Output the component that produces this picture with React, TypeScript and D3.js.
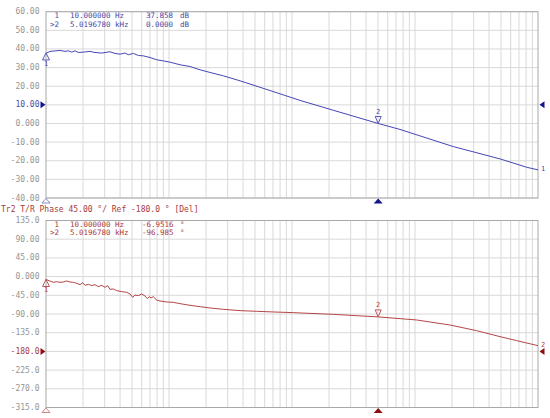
import React from 'react';
import * as d3 from 'd3';

const W = 550;
const H = 418;

// Trace 1: magnitude (dB) vs frequency (Hz)
const freqTop = [10, 10.1, 10.8, 13.0, 14.3, 15.2, 16.2, 17.2, 18.3, 20.1, 22.8, 25.0, 28.4, 33.1, 36.4, 40.0, 43.9, 46.7, 51.3, 56.3, 61.8, 70.1, 79.4, 89.9, 102, 123, 148, 179, 215, 276, 378, 662, 1161, 2167, 5020, 7550, 20480, 49100, 80900, 100000];
const magTop = [37.86, 37.8, 38.7, 39.2, 38.7, 39.0, 38.3, 39.0, 38.1, 38.3, 38.7, 38.1, 37.8, 38.5, 37.6, 37.2, 37.8, 36.9, 37.6, 36.5, 36.3, 35.4, 34.2, 33.6, 32.9, 31.5, 30.6, 28.8, 27.4, 25.6, 22.9, 17.7, 12.4, 7.1, 0.0, -3.2, -12.4, -19.0, -23.5, -24.9];

// Trace 2: phase (deg) vs frequency (Hz)
const freqBot = [10, 10.6, 11.5, 12.2, 13.0, 13.8, 14.7, 15.7, 16.7, 17.8, 18.9, 19.9, 20.8, 22.1, 23.5, 25.0, 26.6, 28.4, 30.2, 31.7, 33.1, 35.3, 37.6, 41.3, 45.3, 48.2, 50.7, 52.9, 56.3, 60.0, 63.8, 66.6, 69.2, 71.4, 74.5, 79.4, 84.5, 95.8, 108, 123, 148, 179, 215, 276, 378, 516, 705, 1025, 1161, 2167, 5020, 10320, 19260, 31730, 49100, 67100, 100000];
const phaseBot = [-6.95, -9.8, -13.8, -12.2, -13.8, -13, -10.5, -13, -13.8, -16.2, -19.4, -14.6, -21, -18.6, -21.8, -19.4, -24.2, -21, -25.8, -21.8, -30.6, -29.8, -33.8, -36.2, -37.8, -41.8, -49.8, -44.2, -45.8, -41.8, -46.6, -53.1, -48.2, -51.4, -48.2, -56.3, -58.7, -61.1, -61.9, -65.1, -69.1, -72.3, -75.5, -78.7, -81.9, -83.5, -85.1, -86.7, -87.5, -90.8, -96.99, -104.4, -116.5, -130.1, -144.5, -154.1, -166.2];

const topTicks = [60, 50, 40, 30, 20, 10, 0, -10, -20, -30, -40];
const topTickLabels = ['60.00', '50.00', '40.00', '30.00', '20.00', '10.00', '0.000', '-10.00', '-20.00', '-30.00', '-40.00'];
const botTicks = [135, 90, 45, 0, -45, -90, -135, -180, -225, -270, -315];
const botTickLabels = ['135.0', '90.00', '45.00', '0.000', '-45.00', '-90.00', '-135.0', '-180.0', '-225.0', '-270.0', '-315.0'];

const markerFreqs = [10, 5019.678];
const markerTopVals = [37.858, 0.0];
const markerBotVals = [-6.9516, -96.985];
const topRef = 10;
const botRef = -180;

const readTop = [
  ['1', '10.000000', 'Hz', '37.858', 'dB'],
  ['>2', '5.0196780', 'kHz', '0.0000', 'dB'],
];
const readBot = [
  ['1', '10.000000', 'Hz', '-6.9516', '°'],
  ['>2', '5.0196780', 'kHz', '-96.985', '°'],
];
const title2 = 'Tr2 T/R Phase 45.00 °/ Ref -180.0 ° [Del]';

const FONT = '"DejaVu Sans Mono", monospace';
const GRID = '#d9d9d9';
const BORDER = '#a8a8a8';
const LABEL = '#959595';
const BLUE = '#4646b4';
const BLUE_TXT = '#4a4aa6';
const NAVY = '#14148c';
const RED = '#b44646';
const RED_TXT = '#a83a3a';
const DARKRED = '#8c1010';

const x = d3.scaleLog().domain([10, 100000]).range([46, 538]);
const yTop = d3.scaleLinear().domain([-40, 60]).range([198, 11.7]);
const yBot = d3.scaleLinear().domain([-315, 135]).range([407.5, 220.5]);

const gridFreqs: number[] = [];
for (let d = 10; d < 100000; d *= 10) {
  for (let k = 1; k <= 9; k++) {
    if (d * k > 10) gridFreqs.push(d * k);
  }
}

function Panel({ y, ticks, labels, refVal, color, txtColor, dark, freqs, vals, markerVals, readout, traceNo }: any) {
  const [y0, y1] = y.range();
  const line = d3.line<number>().x((_, i) => x(freqs[i])).y((v) => y(v));
  return (
    <g>
      {ticks.map((t: number) => (
        <line key={'h' + t} x1={46} x2={538} y1={y(t)} y2={y(t)} stroke={GRID} strokeWidth={1} />
      ))}
      {gridFreqs.map((f) => (
        <line key={'v' + f} x1={x(f)} x2={x(f)} y1={y1} y2={y0} stroke={GRID} strokeWidth={1} />
      ))}
      <rect x={46} y={y1} width={492} height={y0 - y1} fill="none" stroke={BORDER} strokeWidth={1} />
      {ticks.map((t: number, i: number) => (
        <text key={'l' + t} x={39.5} y={y(t)} textAnchor="end" dominantBaseline="central" fontFamily={FONT} fontSize={8} fill={t === refVal ? txtColor : LABEL}>
          {labels[i]}
        </text>
      ))}
      {/* reference level triangles */}
      <path d={`M40.5,${y(refVal) - 3.5} L45.5,${y(refVal)} L40.5,${y(refVal) + 3.5} Z`} fill={dark} />
      <path d={`M544.5,${y(refVal) - 3.5} L539.5,${y(refVal)} L544.5,${y(refVal) + 3.5} Z`} fill={dark} />
      {/* trace */}
      <path d={line(vals) || ''} fill="none" stroke={color} strokeWidth={1} />
      <text x={541} y={y(vals[vals.length - 1]) - 1} dominantBaseline="central" fontFamily={FONT} fontSize={7} fill={color}>{traceNo}</text>
      {/* marker 1 */}
      {(() => {
        const mx = x(markerFreqs[0]);
        const my = y(markerVals[0]);
        return (
          <g>
            <path d={`M${mx},${my} L${mx - 3.5},${my + 7} L${mx + 3.5},${my + 7} Z`} fill="none" stroke={color} strokeWidth={0.9} />
            <text x={mx} y={my + 11} textAnchor="middle" dominantBaseline="central" fontFamily={FONT} fontSize={7} fill={color}>1</text>
          </g>
        );
      })()}
      {/* marker 2 */}
      {(() => {
        const mx = x(markerFreqs[1]);
        const my = y(markerVals[1]);
        return (
          <g>
            <path d={`M${mx},${my} L${mx - 3},${my - 7} L${mx + 3},${my - 7} Z`} fill="none" stroke={color} strokeWidth={0.9} />
            <text x={mx} y={my - 11.5} textAnchor="middle" dominantBaseline="central" fontFamily={FONT} fontSize={7} fill={color}>2</text>
          </g>
        );
      })()}
      {/* stimulus markers under the axis */}
      <path d={`M${x(markerFreqs[0])},${y0 + 0.5} L${x(markerFreqs[0]) - 4},${y0 + 5} L${x(markerFreqs[0]) + 4},${y0 + 5} Z`} fill="white" stroke={color} strokeWidth={0.8} opacity={0.8} />
      <path d={`M${x(markerFreqs[1])},${y0 + 0.5} L${x(markerFreqs[1]) - 4.5},${y0 + 5.5} L${x(markerFreqs[1]) + 4.5},${y0 + 5.5} Z`} fill={dark} />
      {/* readout */}
      {readout.map((r: string[], i: number) => {
        const ty = y1 + 4 + i * 8.4;
        return (
          <g key={'r' + i} fontFamily={FONT} fontSize={7.5} fill={txtColor}>
            <text x={59} y={ty} textAnchor="end" dominantBaseline="central">{r[0]}</text>
            <text x={70} y={ty} dominantBaseline="central">{r[1]}</text>
            <text x={i === 0 ? 115 : 115} y={ty} dominantBaseline="central">{r[2]}</text>
            <text x={r[3].startsWith('-') ? 142 : 146} y={ty} dominantBaseline="central">{r[3]}</text>
            <text x={180} y={ty} dominantBaseline="central">{r[4]}</text>
          </g>
        );
      })}
    </g>
  );
}

export default function App() {
  return (
    <svg width={W} height={H} style={{ position: 'absolute', left: 0, top: 0, background: 'white' }}>
      <rect x={0} y={0} width={W} height={H} fill="white" />
      <Panel y={yTop} ticks={topTicks} labels={topTickLabels} refVal={topRef} color={BLUE} txtColor={BLUE_TXT} dark={NAVY}
        freqs={freqTop} vals={magTop} markerVals={markerTopVals} readout={readTop} traceNo="1" />
      <text x={1} y={209.5} dominantBaseline="central" fontFamily={FONT} fontSize={8} fill={RED_TXT}>{title2}</text>
      <Panel y={yBot} ticks={botTicks} labels={botTickLabels} refVal={botRef} color={RED} txtColor={RED_TXT} dark={DARKRED}
        freqs={freqBot} vals={phaseBot} markerVals={markerBotVals} readout={readBot} traceNo="2" />
    </svg>
  );
}
